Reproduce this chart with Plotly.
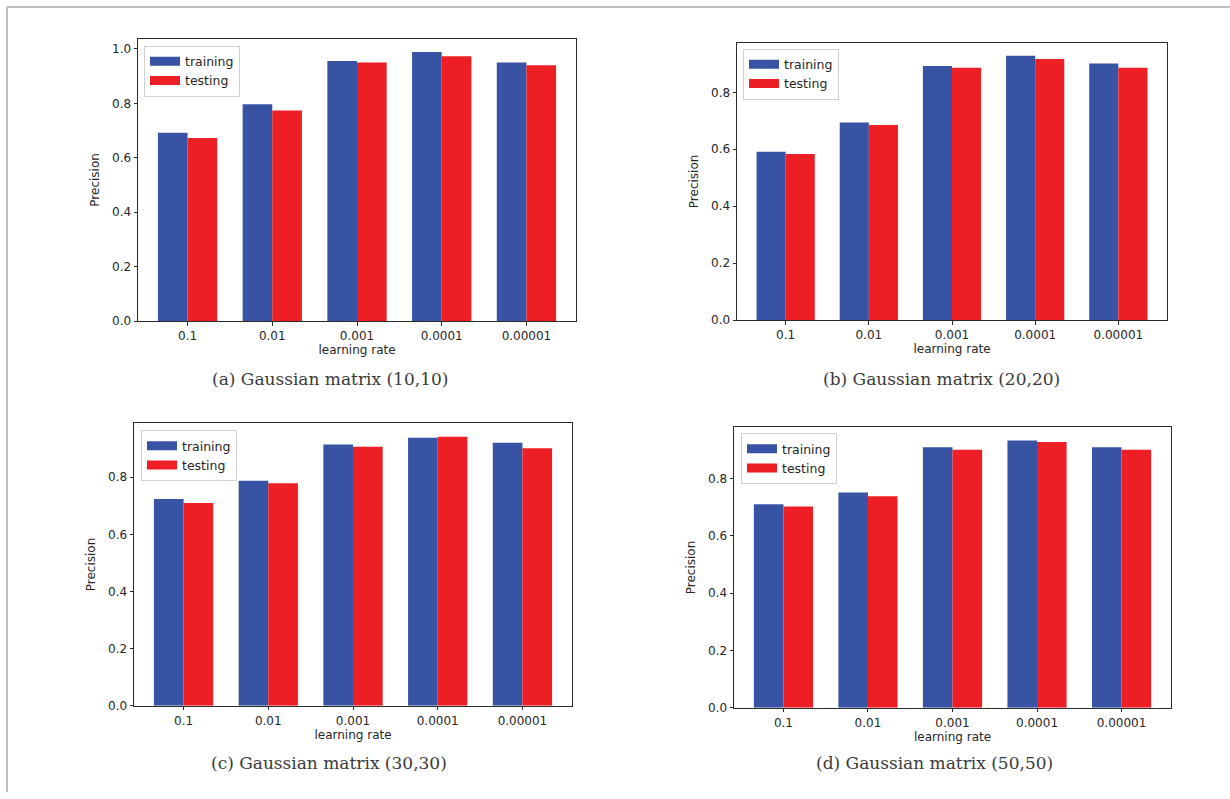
import plotly.graph_objects as go

# Learning rates on the x axis
learning_rates = ["0.1", "0.01", "0.001", "0.0001", "0.00001"]

# Precision per Gaussian matrix size
train_10 = [0.692, 0.797, 0.955, 0.988, 0.950]
test_10 = [0.673, 0.774, 0.950, 0.973, 0.940]

train_20 = [0.591, 0.694, 0.892, 0.928, 0.901]
test_20 = [0.583, 0.685, 0.886, 0.917, 0.886]

train_30 = [0.724, 0.788, 0.915, 0.938, 0.921]
test_30 = [0.710, 0.779, 0.907, 0.942, 0.902]

train_50 = [0.711, 0.752, 0.910, 0.933, 0.910]
test_50 = [0.703, 0.739, 0.901, 0.928, 0.901]

captions = [
    "(a) Gaussian matrix (10,10)",
    "(b) Gaussian matrix (20,20)",
    "(c) Gaussian matrix (30,30)",
    "(d) Gaussian matrix (50,50)",
]

W, H = 1230, 799
BLUE = "#3953a4"
RED = "#ed1f24"
AXIS = "#2b2b2b"
TICK_FONT = dict(family="DejaVu Sans", size=12, color="#262626")


def px_x(v):
    return v / W


def px_y(v):
    return 1 - v / H


# pixel boxes of each panel: (left, right, top, bottom)
panels = [
    (138, 576, 39, 324),
    (737, 1167, 43, 323),
    (134, 572, 427, 712),
    (734, 1171, 431, 714),
]
# legend top-left corners (pixels)
legend_pos = [(144, 46), (743, 49), (141, 434), (741, 437)]
# caption centres (pixels)
caption_pos = [(330, 382), (941, 382), (329, 770), (934, 770)]

series = [
    (train_10, test_10),
    (train_20, test_20),
    (train_30, test_30),
    (train_50, test_50),
]

fig = go.Figure()
layout = dict(
    width=W,
    height=H,
    margin=dict(l=0, r=0, t=0, b=0),
    paper_bgcolor="white",
    plot_bgcolor="white",
    barmode="group",
    bargap=0.3,
    bargroupgap=0,
    showlegend=True,
    annotations=[],
    shapes=[],
)

for i, ((train, test), (l, r, t, b)) in enumerate(zip(series, panels)):
    n = "" if i == 0 else str(i + 1)
    xa, ya = "x" + n, "y" + n
    leg = "legend" + n
    fig.add_trace(go.Bar(x=learning_rates, y=train, name="training",
                         marker=dict(color=BLUE, line=dict(width=0)),
                         xaxis=xa, yaxis=ya, showlegend=False))
    fig.add_trace(go.Bar(x=learning_rates, y=test, name="testing",
                         marker=dict(color=RED, line=dict(width=0)),
                         xaxis=xa, yaxis=ya, showlegend=False))
    # legend entries drawn as wide patches
    for name, col in (("training", BLUE), ("testing", RED)):
        fig.add_trace(go.Scatter(x=[None], y=[None], mode="lines", name=name,
                                 line=dict(color=col, width=9),
                                 xaxis=xa, yaxis=ya, legend=leg))

    ymax = max(train + test) * 1.05
    ticks = [v / 10 for v in range(0, 11, 2) if v / 10 <= ymax + 1e-9]
    layout["xaxis" + n] = dict(
        domain=[px_x(l), px_x(r)], anchor=ya, type="category",
        range=[-0.585, 4.585], showline=True, mirror=True,
        linecolor=AXIS, linewidth=1, ticks="outside", ticklen=3.5,
        tickcolor=AXIS, tickfont=TICK_FONT, showgrid=False, zeroline=False,
        title=dict(text="learning rate", font=TICK_FONT, standoff=1),
    )
    layout["yaxis" + n] = dict(
        domain=[px_y(b), px_y(t)], anchor=xa, range=[0, ymax],
        tickvals=ticks, tickformat=".1f", showline=True, mirror=True,
        linecolor=AXIS, linewidth=1, ticks="outside", ticklen=3.5,
        tickcolor=AXIS, tickfont=TICK_FONT, showgrid=False, zeroline=False,
        title=dict(text="Precision", font=TICK_FONT, standoff=9),
    )
    lx, ly = legend_pos[i]
    layout[leg] = dict(
        x=px_x(lx), y=px_y(ly), xanchor="left", yanchor="top",
        xref="paper", yref="paper",
        bgcolor="white", bordercolor="#d0d0d0", borderwidth=1,
        font=dict(family="DejaVu Sans", size=12.5, color="#262626"),
        itemwidth=30, tracegroupgap=0,
    )
    cx, cy = caption_pos[i]
    layout["annotations"].append(dict(
        text=captions[i], x=px_x(cx), y=px_y(cy), xref="paper", yref="paper",
        xanchor="center", yanchor="middle", showarrow=False,
        font=dict(family="DejaVu Serif", size=17, color="#3a3a3a"),
    ))

# thin frame along the top and left edges of the page
layout["shapes"].append(dict(type="line", xref="paper", yref="paper",
                             x0=px_x(7), x1=1, y0=px_y(7), y1=px_y(7),
                             line=dict(color="#bdbdbd", width=2)))
layout["shapes"].append(dict(type="line", xref="paper", yref="paper",
                             x0=px_x(7), x1=px_x(7), y0=px_y(7), y1=0,
                             line=dict(color="#bdbdbd", width=2)))

fig.update_layout(**layout)
fig.write_html("out.html")
